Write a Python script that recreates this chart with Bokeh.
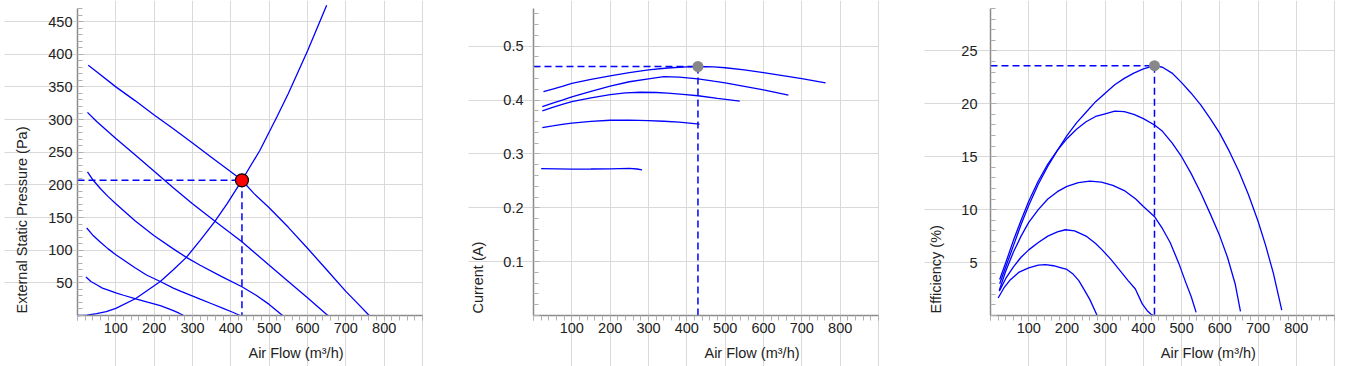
import numpy as np
from bokeh.plotting import figure
from bokeh.layouts import row
from bokeh.models import SingleIntervalTicker, FixedTicker, Range1d, Label
from bokeh.embed import file_html
from bokeh.resources import INLINE

# ---------------- data ----------------
OP_FLOW = 429
OP_PRESSURE = 207
OP_CURRENT = 0.4623
OP_EFFICIENCY = 23.6

X_TITLE = "Air Flow (m³/h)"
FLOW_MAX = 900
FLOW_GRID = [100, 200, 300, 400, 500, 600, 700, 800, 900]

# External static pressure (Pa) vs air flow (m3/h)
p_flow_a = [28, 50, 100, 150, 200, 250, 300, 350, 400, 429, 460, 500, 550, 600, 650, 700, 730, 761]
p_val_a = [383, 373, 350, 329, 307, 286, 264, 242, 220, 207, 187, 165, 135, 103, 70, 37, 19, 0]
p_flow_b = [26, 50, 100, 150, 200, 249, 300, 357, 429, 498, 550, 600, 653]
p_val_b = [311, 297, 271, 246, 221, 196, 171, 145, 113, 78, 52, 27, 0]
p_flow_c = [26, 41, 60, 80, 100, 150, 200, 250, 284, 320, 375, 429, 466, 500, 535]
p_val_c = [220, 207, 194, 182, 171, 145, 122, 102, 89, 77, 60, 44, 31, 17, 0]
p_flow_d = [24, 40, 60, 80, 100, 125, 150, 180, 216, 250, 270, 320, 350, 380, 405, 424]
p_val_d = [134, 123, 112, 102, 93, 83, 73, 62, 52, 42, 37, 25, 18, 11, 5, 0]
p_flow_e = [22, 35, 50, 65, 84, 100, 120, 152, 185, 216, 235, 250, 265, 277]
p_val_e = [59, 52, 47, 42, 38, 34.5, 31, 25.5, 20, 15, 11, 7.5, 3.5, 0]
sys_flow = [0, 25, 50, 75, 100, 152, 216, 250, 284, 320, 357, 390, 429, 476, 520, 550, 600, 650]
sys_val = [0, 0.7, 3, 6, 11, 26, 52, 70, 89, 115, 143, 171, 207, 253, 304, 340, 405, 475]
p_grid = [50, 100, 150, 200, 250, 300, 350, 400, 450]

# Current (A) vs air flow
c_flow_a = [26, 50, 75, 100, 150, 200, 250, 300, 350, 400, 429, 470, 500, 550, 600, 650, 700, 762]
c_val_a = [0.4155, 0.4205, 0.4255, 0.431, 0.4385, 0.445, 0.451, 0.456, 0.4595, 0.4618, 0.4623,
           0.4615, 0.460, 0.456, 0.451, 0.4455, 0.440, 0.432]
c_flow_b = [23, 50, 75, 100, 150, 200, 250, 300, 340, 380, 429, 470, 500, 550, 600, 665]
c_val_b = [0.388, 0.3945, 0.400, 0.406, 0.416, 0.426, 0.434, 0.4395, 0.4435, 0.4425, 0.4395,
           0.435, 0.432, 0.4255, 0.419, 0.409]
c_flow_c = [23, 50, 75, 100, 150, 200, 240, 279, 320, 350, 390, 429, 480, 538]
c_val_c = [0.380, 0.3865, 0.392, 0.397, 0.404, 0.410, 0.4133, 0.4145, 0.414, 0.413, 0.4107,
           0.408, 0.403, 0.398]
c_flow_d = [23, 50, 75, 100, 150, 200, 250, 300, 340, 380, 433]
c_val_d = [0.349, 0.352, 0.3548, 0.357, 0.3605, 0.3625, 0.3628, 0.362, 0.3607, 0.359, 0.3555]
c_flow_e = [20, 60, 100, 150, 200, 250, 270, 283]
c_val_e = [0.2728, 0.2723, 0.2718, 0.2720, 0.2724, 0.2733, 0.2720, 0.2705]
c_grid = [0.1, 0.2, 0.3, 0.4, 0.5]

# Efficiency (%) vs air flow
e_flow_a = [24, 40, 60, 80, 100, 125, 150, 175, 200, 225, 250, 275, 300, 325, 350, 375, 400, 429,
            450, 475, 500, 525, 550, 575, 600, 625, 650, 675, 700, 720, 740, 762]
e_val_a = [3.0, 4.6, 6.6, 8.6, 10.4, 12.4, 14.1, 15.6, 17.0, 18.2, 19.2, 20.2, 21.0, 21.8, 22.4,
           22.9, 23.3, 23.6, 23.45, 22.9, 22.0, 21.0, 19.9, 18.6, 17.2, 15.5, 13.6, 11.4, 8.9,
           6.6, 4.0, 0.5]
e_flow_b = [24, 40, 60, 80, 100, 125, 150, 175, 200, 225, 250, 275, 300, 325, 350, 375, 400, 429,
            450, 475, 500, 525, 550, 575, 600, 620, 640, 654]
e_val_b = [3.4, 5.0, 7.1, 9.0, 10.8, 12.7, 14.3, 15.6, 16.7, 17.6, 18.3, 18.8, 19.05, 19.3, 19.25,
           19.0, 18.6, 18.0, 17.4, 16.3, 15.0, 13.4, 11.6, 9.6, 7.5, 5.5, 3.0, 0.4]
e_flow_c = [23, 40, 60, 80, 100, 125, 150, 175, 200, 230, 260, 290, 320, 350, 380, 400, 430, 450,
            470, 493, 510, 525, 538]
e_val_c = [2.4, 4.2, 6.0, 7.5, 8.8, 10.0, 11.0, 11.7, 12.2, 12.55, 12.7, 12.6, 12.3, 11.8, 11.0,
           10.3, 9.3, 8.2, 6.9, 4.9, 3.2, 1.8, 0.3]
e_flow_d = [23, 40, 60, 80, 100, 125, 150, 175, 196, 220, 250, 275, 292, 315, 340, 360, 379, 397,
            410, 420, 427]
e_val_d = [2.3, 3.5, 4.6, 5.5, 6.2, 6.9, 7.5, 7.9, 8.1, 8.0, 7.5, 6.8, 6.2, 5.3, 4.2, 3.3, 2.5,
           1.1, 0.45, 0.12, 0.0]
e_flow_e = [20, 35, 50, 75, 100, 125, 144, 165, 185, 200, 215, 231, 245, 260, 279]
e_val_e = [1.65, 2.6, 3.3, 4.1, 4.5, 4.75, 4.8, 4.7, 4.5, 4.35, 3.95, 3.3, 2.45, 1.5, 0.0]
e_grid = [5, 10, 15, 20, 25]

# ---------------- styling / layout (pixels) ----------------
FONT = "Liberation Sans"
CURVE = "#0000ff"
GRID = "#d9d9d9"
TEXT = "#222222"
FIG_H = 366
PLOT_TOP = 8       # px from top where the y axis ends
PLOT_BOTTOM = 315  # px from top of the x axis


def make_fig(width, left_px, plot_w, y_end, y_step, y_grid, standoff, y_title, title_x):
    ux = FLOW_MAX / plot_w                      # data units per px (x)
    uy = y_end / (PLOT_BOTTOM - PLOT_TOP)       # data units per px (y)
    xr = Range1d(-left_px * ux, (width - left_px) * ux)
    yr = Range1d(-(FIG_H - PLOT_BOTTOM) * uy, y_end + PLOT_TOP * uy)
    p = figure(width=width, height=FIG_H, x_range=xr, y_range=yr,
               output_backend="svg", toolbar_location=None,
               min_border_left=0, min_border_right=0, min_border_top=0, min_border_bottom=0)
    p.outline_line_color = None
    p.background_fill_color = "white"
    p.border_fill_color = "white"

    xa = p.xaxis[0]
    ya = p.yaxis[0]
    xa.fixed_location = 0
    ya.fixed_location = 0
    xa.bounds = (0, FLOW_MAX)
    ya.bounds = (0, y_end)
    xa.ticker = SingleIntervalTicker(interval=100, num_minor_ticks=5)
    ya.ticker = SingleIntervalTicker(interval=y_step, num_minor_ticks=5)
    xa.major_label_overrides = {0: "", 900: ""}
    ya.major_label_overrides = {0: ""}
    p.xgrid.ticker = FixedTicker(ticks=FLOW_GRID)
    p.ygrid.ticker = FixedTicker(ticks=y_grid)
    p.xgrid.grid_line_color = GRID
    p.ygrid.grid_line_color = GRID
    try:
        p.ygrid.cross_bounds = (-(left_px - 4) * ux, FLOW_MAX)
    except Exception:
        pass
    for ax in (xa, ya):
        ax.axis_line_color = "#8a8a8a"
        ax.axis_line_width = 1.5
        ax.major_tick_line_color = "#b0b0b0"
        ax.minor_tick_line_color = "#b0b0b0"
        ax.major_label_text_font = FONT
        ax.major_label_text_font_size = "14.5px"
        ax.major_label_text_color = TEXT
    xa.major_tick_in = 0
    xa.major_tick_out = 5
    xa.minor_tick_in = 0
    xa.minor_tick_out = 5
    xa.major_label_standoff = 2
    ya.major_tick_in = 6
    ya.major_tick_out = 0
    ya.minor_tick_in = 5
    ya.minor_tick_out = 0
    ya.major_label_standoff = standoff

    p.add_layout(Label(x=570, x_units="data", y=FIG_H - 352, y_units="screen", text=X_TITLE,
                       text_align="center", text_baseline="middle", text_font=FONT,
                       text_font_size="14.5px", text_color=TEXT))
    p.add_layout(Label(x=title_x, x_units="screen", y=FIG_H - PLOT_BOTTOM + 2, y_units="screen",
                       text=y_title, angle=np.pi / 2, text_align="left", text_baseline="middle",
                       text_font=FONT, text_font_size="14.5px", text_color=TEXT))
    return p


def curves(p, pairs):
    for fx, fy in pairs:
        p.line(fx, fy, line_color=CURVE, line_width=1.3)


def op_guides(p, y):
    p.line([0, OP_FLOW], [y, y], line_color=CURVE, line_width=1.5, line_dash="7 4")
    p.line([OP_FLOW, OP_FLOW], [y, 0], line_color=CURVE, line_width=1.5, line_dash="7 4")


p1 = make_fig(464, 77, 345, 470, 50, p_grid, 5, "External Static Pressure (Pa)", 21)
curves(p1, [(p_flow_a, p_val_a), (p_flow_b, p_val_b), (p_flow_c, p_val_c),
            (p_flow_d, p_val_d), (p_flow_e, p_val_e), (sys_flow, sys_val)])
op_guides(p1, OP_PRESSURE)
p1.scatter([OP_FLOW], [OP_PRESSURE], size=13, fill_color="#ff0000", line_color="black", line_width=1.2)

p2 = make_fig(456, 69, 345, 0.57, 0.1, c_grid, 10, "Current (A)", 13.5)
curves(p2, [(c_flow_a, c_val_a), (c_flow_b, c_val_b), (c_flow_c, c_val_c),
            (c_flow_d, c_val_d), (c_flow_e, c_val_e)])
op_guides(p2, OP_CURRENT)
p2.scatter([OP_FLOW], [OP_CURRENT], size=11, fill_color="#888888", line_color=None)

p3 = make_fig(432, 70, 344, 29, 5, e_grid, 13, "Efficiency (%)", 15)
curves(p3, [(e_flow_a, e_val_a), (e_flow_b, e_val_b), (e_flow_c, e_val_c),
            (e_flow_d, e_val_d), (e_flow_e, e_val_e)])
op_guides(p3, OP_EFFICIENCY)
p3.scatter([OP_FLOW], [OP_EFFICIENCY], size=11, fill_color="#888888", line_color=None)

layout = row(p1, p2, p3)
open("out.html", "w").write(file_html(layout, INLINE))
